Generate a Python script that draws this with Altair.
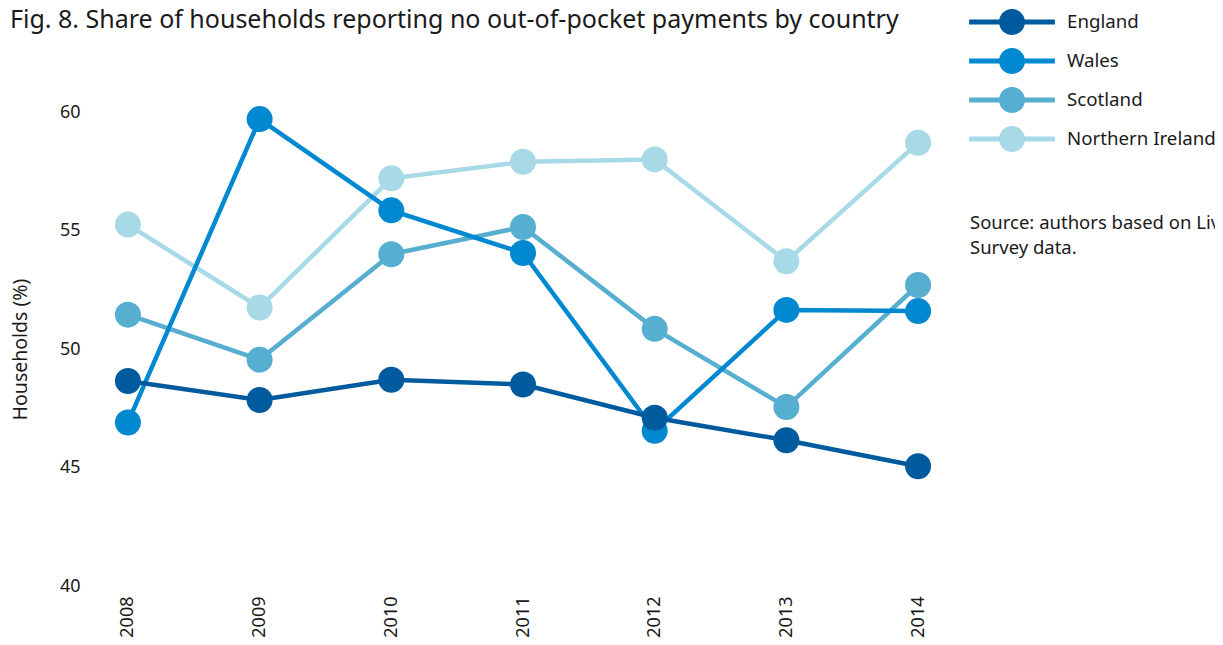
import altair as alt
import pandas as pd

years = [2008, 2009, 2010, 2011, 2012, 2013, 2014]
countries = ["England", "Wales", "Scotland", "Northern Ireland"]
england = [48.65, 47.85, 48.7, 48.5, 47.1, 46.15, 45.05]
wales = [46.9, 59.7, 55.85, 54.05, 46.55, 51.65, 51.6]
scotland = [51.45, 49.55, 54.0, 55.15, 50.85, 47.55, 52.7]
nireland = [55.25, 51.75, 57.2, 57.9, 58.0, 53.7, 58.7]
colors = ["#005a9e", "#0088d1", "#56aed0", "#a7d9e7"]
title_text = "Fig. 8. Share of households reporting no out-of-pocket payments by country"
source_lines = ["Source: authors based on Living Costs and Food", "Survey data."]

series = {"England": england, "Wales": wales, "Scotland": scotland, "Northern Ireland": nireland}
rows = []
for c in ["Northern Ireland", "Scotland", "Wales", "England"]:
    for y, v in zip(years, series[c]):
        rows.append({"year": y, "country": c, "value": v, "ord": countries[::-1].index(c)})
df = pd.DataFrame(rows)

FONT = "Noto Sans"
TXT = "#1a1a1a"

legend_symbol = ("M-3.3,-0.19 L3.3,-0.19 L3.3,0.19 L-3.3,0.19 Z "
                 "M1,0 A1,1 0 1,1 -1,0 A1,1 0 1,1 1,0 Z")

legend = alt.Legend(orient="none", legendX=904, legendY=-103, title=None,
                    symbolType=legend_symbol, symbolSize=676, symbolStrokeWidth=0,
                    symbolOpacity=1, labelFont=FONT, labelFontSize=18.7, labelColor=TXT,
                    labelOffset=42, rowPadding=13, padding=0)
color = alt.Color("country:N", scale=alt.Scale(domain=countries, range=colors), legend=legend)

x = alt.X("year:Q", scale=alt.Scale(domain=[2007.75, 2014.25], nice=False, zero=False),
          axis=alt.Axis(values=years, format="d", labelAngle=270, labelPadding=10,
                        labelFontSize=18, labelColor=TXT, labelFont=FONT,
                        ticks=False, domain=False, grid=False, title=None))
y = alt.Y("value:Q", scale=alt.Scale(domain=[40, 60], nice=False, zero=False),
          axis=alt.Axis(values=[40, 45, 50, 55, 60], labelPadding=15, labelFontSize=18,
                        labelColor=TXT, labelFont=FONT, ticks=False, domain=False, grid=False,
                        title="Households (%)", titleFont=FONT, titleFontSize=19.5,
                        titleFontWeight="normal", titleColor=TXT, titlePadding=29))

base = alt.Chart(df)
lines = base.mark_line(strokeWidth=4.5).encode(x=x, y=y, color=color, detail="country:N")
points = base.mark_circle(size=676, opacity=1).encode(x=x, y=y, color=color, order="ord:Q")

title = alt.Chart(pd.DataFrame({"t": [title_text]})).mark_text(
    align="left", baseline="middle", font=FONT, fontSize=25, color=TXT
).encode(text="t:N", x=alt.value(-85), y=alt.value(-92))

source = alt.Chart(pd.DataFrame({"t": ["\n".join(source_lines)]})).mark_text(
    align="left", baseline="middle", font=FONT, fontSize=18.5, color=TXT, lineBreak="\n", lineHeight=25
).encode(text="t:N", x=alt.value(875), y=alt.value(111))

chart = alt.layer(lines, points, title, source).properties(
    width=856, height=474, autosize="none",
    padding={"left": 87, "top": 104, "right": 264, "bottom": 51}
).configure_view(stroke=None)

chart.save("out.html", embed_options={"renderer": "svg", "actions": False})
